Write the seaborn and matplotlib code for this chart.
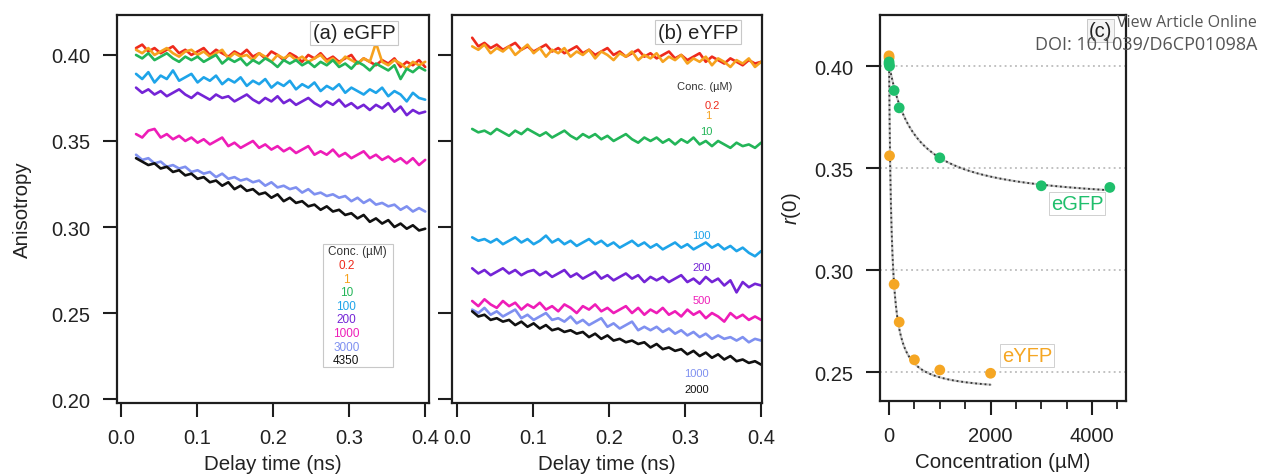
import numpy as np
import pandas as pd
import matplotlib
matplotlib.use("Agg")
import matplotlib.pyplot as plt
from matplotlib.patches import Rectangle
import seaborn as sns

sns.set_theme(style="ticks")
plt.rcParams["font.family"] = ["Liberation Sans", "DejaVu Sans"]
plt.rcParams["mathtext.fontset"] = "custom"
plt.rcParams["mathtext.it"] = "Liberation Sans:italic"
plt.rcParams["mathtext.rm"] = "Liberation Sans"

# ---------------------------------------------------------------- data
# sampling grid of the anisotropy decays (ns)
delay_time = np.linspace(0.02, 0.40, 48)

egfp_labels = ["0.2", "1", "10", "100", "200", "1000", "3000", "4350"]
eyfp_labels = ["0.2", "1", "10", "100", "200", "500", "1000", "2000"]

# eGFP anisotropy decays, one per concentration
egfp_0p2 = [0.404, 0.406, 0.402, 0.404, 0.401, 0.403, 0.405, 0.401, 0.403, 0.400,
            0.402, 0.404, 0.400, 0.403, 0.401, 0.399, 0.402, 0.400, 0.403, 0.399,
            0.401, 0.398, 0.402, 0.400, 0.397, 0.401, 0.399, 0.396, 0.400, 0.398,
            0.401, 0.397, 0.399, 0.396, 0.398, 0.400, 0.395, 0.398, 0.396, 0.394,
            0.397, 0.395, 0.398, 0.393, 0.396, 0.394, 0.397, 0.393]
egfp_1 = [0.403, 0.401, 0.404, 0.400, 0.402, 0.404, 0.401, 0.399, 0.402, 0.403,
          0.400, 0.402, 0.399, 0.401, 0.403, 0.398, 0.401, 0.399, 0.400, 0.397,
          0.401, 0.399, 0.396, 0.400, 0.398, 0.400, 0.397, 0.399, 0.396, 0.398,
          0.400, 0.396, 0.398, 0.395, 0.399, 0.397, 0.395, 0.398, 0.396, 0.407,
          0.396, 0.394, 0.397, 0.395, 0.392, 0.396, 0.394, 0.396]
egfp_10 = [0.400, 0.398, 0.401, 0.397, 0.399, 0.401, 0.398, 0.396, 0.399, 0.397,
           0.399, 0.396, 0.398, 0.400, 0.395, 0.398, 0.396, 0.398, 0.394, 0.397,
           0.395, 0.398, 0.396, 0.393, 0.397, 0.395, 0.397, 0.394, 0.396, 0.393,
           0.396, 0.394, 0.397, 0.393, 0.395, 0.392, 0.396, 0.394, 0.391, 0.395,
           0.393, 0.391, 0.394, 0.386, 0.392, 0.390, 0.393, 0.391]
egfp_100 = [0.389, 0.386, 0.390, 0.384, 0.388, 0.386, 0.391, 0.385, 0.387, 0.389,
            0.384, 0.387, 0.385, 0.388, 0.383, 0.386, 0.384, 0.387, 0.382, 0.385,
            0.383, 0.386, 0.381, 0.384, 0.382, 0.385, 0.380, 0.383, 0.381, 0.384,
            0.379, 0.382, 0.380, 0.383, 0.378, 0.381, 0.379, 0.377, 0.380, 0.378,
            0.381, 0.376, 0.379, 0.377, 0.373, 0.378, 0.375, 0.374]
egfp_200 = [0.381, 0.378, 0.380, 0.377, 0.379, 0.376, 0.378, 0.380, 0.377, 0.375,
            0.378, 0.376, 0.374, 0.377, 0.375, 0.376, 0.373, 0.375, 0.377, 0.374,
            0.372, 0.375, 0.373, 0.376, 0.372, 0.374, 0.371, 0.373, 0.375, 0.372,
            0.370, 0.373, 0.371, 0.374, 0.370, 0.372, 0.369, 0.371, 0.368, 0.371,
            0.369, 0.372, 0.367, 0.370, 0.365, 0.368, 0.366, 0.367]
egfp_1000 = [0.354, 0.352, 0.356, 0.357, 0.352, 0.354, 0.351, 0.353, 0.350, 0.352,
             0.349, 0.351, 0.348, 0.350, 0.352, 0.347, 0.349, 0.346, 0.348, 0.350,
             0.346, 0.348, 0.345, 0.347, 0.344, 0.346, 0.343, 0.345, 0.347, 0.342,
             0.344, 0.342, 0.345, 0.341, 0.343, 0.340, 0.342, 0.344, 0.340, 0.342,
             0.339, 0.341, 0.338, 0.340, 0.337, 0.340, 0.336, 0.339]
egfp_3000 = [0.342, 0.339, 0.340, 0.337, 0.338, 0.335, 0.336, 0.334, 0.335, 0.332,
             0.333, 0.331, 0.332, 0.329, 0.331, 0.328, 0.329, 0.327, 0.328, 0.326,
             0.327, 0.324, 0.326, 0.323, 0.324, 0.322, 0.323, 0.320, 0.322, 0.319,
             0.320, 0.318, 0.319, 0.317, 0.318, 0.315, 0.317, 0.314, 0.316, 0.313,
             0.314, 0.312, 0.313, 0.310, 0.312, 0.309, 0.311, 0.309]
egfp_4350 = [0.340, 0.338, 0.336, 0.337, 0.334, 0.335, 0.332, 0.333, 0.330, 0.331,
             0.328, 0.329, 0.326, 0.327, 0.324, 0.326, 0.322, 0.324, 0.321, 0.322,
             0.319, 0.320, 0.317, 0.319, 0.315, 0.317, 0.314, 0.315, 0.312, 0.313,
             0.310, 0.312, 0.309, 0.310, 0.307, 0.308, 0.305, 0.307, 0.303, 0.305,
             0.302, 0.304, 0.300, 0.302, 0.299, 0.301, 0.298, 0.299]

# eYFP anisotropy decays, one per concentration
eyfp_0p2 = [0.410, 0.405, 0.407, 0.404, 0.406, 0.403, 0.405, 0.407, 0.403, 0.405,
            0.402, 0.404, 0.406, 0.402, 0.404, 0.401, 0.403, 0.405, 0.401, 0.403,
            0.400, 0.402, 0.404, 0.400, 0.402, 0.399, 0.401, 0.403, 0.399, 0.401,
            0.398, 0.400, 0.402, 0.398, 0.400, 0.397, 0.399, 0.401, 0.396, 0.399,
            0.397, 0.395, 0.398, 0.396, 0.394, 0.397, 0.395, 0.396]
eyfp_1 = [0.405, 0.403, 0.406, 0.401, 0.404, 0.402, 0.405, 0.400, 0.403, 0.406,
          0.401, 0.404, 0.399, 0.403, 0.401, 0.404, 0.399, 0.402, 0.400, 0.403,
          0.398, 0.402, 0.400, 0.397, 0.401, 0.399, 0.402, 0.397, 0.400, 0.398,
          0.401, 0.396, 0.399, 0.397, 0.400, 0.395, 0.398, 0.396, 0.399, 0.394,
          0.398, 0.396, 0.393, 0.397, 0.395, 0.398, 0.393, 0.396]
eyfp_10 = [0.357, 0.355, 0.356, 0.354, 0.357, 0.355, 0.353, 0.356, 0.354, 0.357,
           0.355, 0.353, 0.355, 0.352, 0.354, 0.356, 0.353, 0.351, 0.354, 0.352,
           0.354, 0.351, 0.353, 0.350, 0.352, 0.354, 0.351, 0.349, 0.352, 0.350,
           0.352, 0.349, 0.351, 0.348, 0.351, 0.349, 0.352, 0.348, 0.350, 0.347,
           0.350, 0.348, 0.346, 0.349, 0.347, 0.348, 0.346, 0.349]
eyfp_100 = [0.294, 0.292, 0.293, 0.291, 0.293, 0.290, 0.292, 0.294, 0.291, 0.293,
            0.290, 0.292, 0.295, 0.291, 0.293, 0.290, 0.292, 0.289, 0.291, 0.293,
            0.290, 0.292, 0.289, 0.291, 0.288, 0.290, 0.292, 0.289, 0.291, 0.288,
            0.290, 0.287, 0.289, 0.291, 0.288, 0.290, 0.287, 0.289, 0.291, 0.288,
            0.290, 0.287, 0.289, 0.286, 0.288, 0.285, 0.283, 0.286]
eyfp_200 = [0.276, 0.273, 0.275, 0.272, 0.274, 0.276, 0.273, 0.275, 0.272, 0.274,
            0.275, 0.272, 0.274, 0.271, 0.273, 0.275, 0.271, 0.273, 0.270, 0.272,
            0.274, 0.270, 0.272, 0.269, 0.271, 0.273, 0.270, 0.272, 0.268, 0.271,
            0.269, 0.271, 0.268, 0.270, 0.272, 0.268, 0.270, 0.267, 0.271, 0.268,
            0.270, 0.266, 0.269, 0.262, 0.268, 0.265, 0.267, 0.266]
eyfp_500 = [0.257, 0.254, 0.258, 0.255, 0.253, 0.257, 0.254, 0.256, 0.252, 0.255,
            0.253, 0.256, 0.252, 0.254, 0.251, 0.255, 0.253, 0.250, 0.254, 0.252,
            0.255, 0.251, 0.253, 0.250, 0.252, 0.254, 0.250, 0.253, 0.249, 0.252,
            0.250, 0.253, 0.249, 0.251, 0.248, 0.252, 0.249, 0.251, 0.247, 0.250,
            0.248, 0.245, 0.250, 0.247, 0.249, 0.246, 0.248, 0.246]
eyfp_1000 = [0.252, 0.250, 0.253, 0.249, 0.251, 0.248, 0.250, 0.252, 0.247, 0.249,
             0.246, 0.248, 0.250, 0.246, 0.247, 0.245, 0.248, 0.244, 0.246, 0.243,
             0.245, 0.247, 0.242, 0.244, 0.241, 0.243, 0.245, 0.240, 0.242, 0.240,
             0.242, 0.239, 0.241, 0.238, 0.240, 0.237, 0.239, 0.236, 0.238, 0.235,
             0.237, 0.235, 0.236, 0.234, 0.236, 0.233, 0.235, 0.234]
eyfp_2000 = [0.251, 0.248, 0.249, 0.246, 0.247, 0.245, 0.246, 0.243, 0.245, 0.242,
             0.244, 0.241, 0.243, 0.240, 0.241, 0.239, 0.240, 0.238, 0.239, 0.236,
             0.238, 0.235, 0.237, 0.234, 0.235, 0.233, 0.234, 0.232, 0.233, 0.230,
             0.232, 0.229, 0.230, 0.228, 0.229, 0.226, 0.228, 0.225, 0.227, 0.224,
             0.226, 0.223, 0.225, 0.222, 0.223, 0.221, 0.222, 0.220]

# initial anisotropy r(0) versus concentration (uM)
egfp_conc = [0.2, 1, 10, 100, 200, 1000, 3000, 4350]
egfp_r0 = [0.401, 0.402, 0.400, 0.388, 0.3795, 0.355, 0.3413, 0.3405]
eyfp_conc = [0.2, 1, 10, 100, 200, 500, 1000, 2000]
eyfp_r0 = [0.405, 0.404, 0.356, 0.293, 0.2745, 0.256, 0.251, 0.2494]

# hyperbolic fit parameters: r(c) = r_inf + amp / (1 + c / k_half)
egfp_fit = {"r_inf": 0.332, "amp": 0.069, "k_half": 500.0}
eyfp_fit = {"r_inf": 0.240, "amp": 0.165, "k_half": 47.0}

# ---------------------------------------------------------------- style
trace_colors = ["#ee2a1c", "#f6a21e", "#23b558", "#1ea4e9",
                "#7424d6", "#ee1db8", "#7f90f0", "#111111"]
egfp_color = "#1fbf6c"
eyfp_color = "#f5a623"
frame_color = "#1e1e1e"
text_color = "#222222"
tick_fs = 14.5
label_fs = 14.8

egfp_traces = [egfp_0p2, egfp_1, egfp_10, egfp_100,
               egfp_200, egfp_1000, egfp_3000, egfp_4350]
eyfp_traces = [eyfp_0p2, eyfp_1, eyfp_10, eyfp_100,
               eyfp_200, eyfp_500, eyfp_1000, eyfp_2000]

fig = plt.figure(figsize=(12.61, 4.77), dpi=100)
ax_a = fig.add_axes([0.0928, 0.153, 0.2474, 0.8134])
ax_b = fig.add_axes([0.3584, 0.153, 0.2458, 0.8134])
ax_c = fig.add_axes([0.6979, 0.1572, 0.1951, 0.8092])


def style_frame(ax):
    for side in ["left", "right", "top", "bottom"]:
        ax.spines[side].set_visible(True)
        ax.spines[side].set_linewidth(1.6)
        ax.spines[side].set_color(frame_color)
    ax.tick_params(axis="both", which="major", direction="out", length=10,
                   width=1.5, color=frame_color, labelsize=tick_fs,
                   labelcolor=text_color)
    ax.tick_params(axis="y", which="major", pad=9)
    ax.tick_params(axis="x", which="major", pad=8)
    ax.tick_params(axis="both", which="minor", direction="out", length=5,
                   width=1.3, color=frame_color)
    ax.set_facecolor("white")


def draw_traces(ax, traces, labels):
    rows = []
    for lab, vals in zip(labels, traces):
        rows.append(pd.DataFrame({"t": delay_time, "r": vals, "conc": lab}))
    df = pd.concat(rows, ignore_index=True)
    sns.lineplot(data=df, x="t", y="r", hue="conc", hue_order=labels,
                 palette=trace_colors, linewidth=1.9, legend=False, ax=ax,
                 sort=False)


# ---------------------------------------------------------------- (a) eGFP
draw_traces(ax_a, egfp_traces, egfp_labels)
style_frame(ax_a)
ax_a.set_xlim(-0.005, 0.405)
ax_a.set_ylim(0.1977, 0.4232)
ax_a.set_xticks([0.0, 0.1, 0.2, 0.3, 0.4])
ax_a.set_xticklabels(["0.0", "0.1", "0.2", "0.3", "0.4"])
ax_a.set_yticks([0.20, 0.25, 0.30, 0.35, 0.40])
ax_a.set_yticklabels(["0.20", "0.25", "0.30", "0.35", "0.40"])
ax_a.set_xlabel("Delay time (ns)", fontsize=label_fs, color=text_color, labelpad=5)
ax_a.set_ylabel("Anisotropy", fontsize=label_fs, color=text_color, labelpad=14)
ax_a.text(0.76, 0.954, "(a) eGFP", transform=ax_a.transAxes, ha="center",
          va="center", fontsize=tick_fs, color=text_color,
          bbox=dict(boxstyle="square,pad=0.12", fc="white", ec="#c8c8c8", lw=0.8))

# concentration key
ax_a.add_patch(Rectangle((0.66, 0.093), 0.225, 0.317, transform=ax_a.transAxes,
                         fc="white", ec="#c8c8c8", lw=0.8, zorder=3))
ax_a.text(0.772, 0.392, "Conc. (µM)", transform=ax_a.transAxes, ha="center",
          va="center", fontsize=8.5, color="#333333", zorder=4)
for i, (lab, col) in enumerate(zip(egfp_labels, trace_colors)):
    ax_a.text(0.735, 0.356 - i * 0.0351, lab, transform=ax_a.transAxes,
              ha="center", va="center", fontsize=8.5, color=col, zorder=4)

# ---------------------------------------------------------------- (b) eYFP
draw_traces(ax_b, eyfp_traces, eyfp_labels)
style_frame(ax_b)
ax_b.set_xlim(-0.0066, 0.401)
ax_b.set_ylim(0.1977, 0.4232)
ax_b.set_xticks([0.0, 0.1, 0.2, 0.3, 0.4])
ax_b.set_xticklabels(["0.0", "0.1", "0.2", "0.3", "0.4"])
ax_b.set_yticks([0.20, 0.25, 0.30, 0.35, 0.40])
ax_b.set_yticklabels([])
ax_b.set_xlabel("Delay time (ns)", fontsize=label_fs, color=text_color, labelpad=5)
ax_b.set_ylabel("")
ax_b.text(0.794, 0.956, "(b) eYFP", transform=ax_b.transAxes, ha="center",
          va="center", fontsize=tick_fs, color=text_color,
          bbox=dict(boxstyle="square,pad=0.12", fc="white", ec="#c8c8c8", lw=0.8))

ax_b.text(0.326, 0.382, "Conc. (µM)", ha="center", va="center",
          fontsize=8, color="#333333")
label_spots_b = [(0.336, 0.371), (0.331, 0.365), (0.328, 0.3559),
                 (0.322, 0.2956), (0.322, 0.2770), (0.322, 0.2573),
                 (0.315, 0.2150), (0.315, 0.2057)]
for (tx, ty), lab, col in zip(label_spots_b, eyfp_labels, trace_colors):
    ax_b.text(tx, ty, lab, ha="center", va="center", fontsize=8, color=col)

# ---------------------------------------------------------------- (c) r(0)
style_frame(ax_c)
ax_c.set_xlim(-177, 4670)
ax_c.set_ylim(0.2358, 0.425)
ax_c.set_yticks([0.25, 0.30, 0.35, 0.40])
ax_c.set_yticklabels(["0.25", "0.30", "0.35", "0.40"])
ax_c.set_xticks([0, 2000, 4000])
ax_c.set_xticklabels(["0", "2000", "4000"])
ax_c.set_xticks(np.arange(500, 4600, 500), minor=True)
ax_c.tick_params(axis="x", which="minor", length=6)
ax_c.yaxis.grid(True, linestyle=(0, (1.2, 2.2)), color="#b0b0b0", linewidth=1.1)
ax_c.set_axisbelow(True)

for fit, top in [(egfp_fit, max(egfp_conc)), (eyfp_fit, max(eyfp_conc))]:
    c = np.geomspace(0.2, top, 400)
    r = fit["r_inf"] + fit["amp"] / (1 + c / fit["k_half"])
    ax_c.plot(c, r, color="#c4c4c4", linewidth=1.6, zorder=2)
    ax_c.plot(c, r, color="#333333", linewidth=1.3,
              linestyle=(0, (1.0, 1.6)), zorder=2.1)

sns.scatterplot(x=eyfp_conc, y=eyfp_r0, color=eyfp_color, s=60,
                edgecolor="none", ax=ax_c, zorder=3)
sns.scatterplot(x=egfp_conc, y=egfp_r0, color=egfp_color, s=60,
                edgecolor="none", ax=ax_c, zorder=4)

ax_c.set_xlabel("Concentration (µM)", fontsize=label_fs, color=text_color, labelpad=5)
ax_c.set_ylabel("$r$(0)", fontsize=label_fs, color=text_color, labelpad=8)
ax_c.text(3704, 0.3324, "eGFP", ha="center", va="center", fontsize=tick_fs,
          color=egfp_color,
          bbox=dict(boxstyle="square,pad=0.1", fc="white", ec="#d0d0d0", lw=0.7))
ax_c.text(2719, 0.2583, "eYFP", ha="center", va="center", fontsize=tick_fs,
          color=eyfp_color,
          bbox=dict(boxstyle="square,pad=0.1", fc="white", ec="#d0d0d0", lw=0.7))
ax_c.text(0.896, 0.959, "(c)", transform=ax_c.transAxes, ha="center",
          va="center", fontsize=tick_fs, color=text_color,
          bbox=dict(boxstyle="square,pad=0.1", fc="#f4f4f4", ec="#c8c8c8", lw=0.7))

# publisher link in the top right corner
fig.text(0.9968, 0.952, "View Article Online", ha="right", va="center",
         fontsize=11.5, color="#555555", family=["Open Sans", "DejaVu Sans"],
         zorder=10)
fig.text(0.9968, 0.906, "DOI: 10.1039/D6CP01098A", ha="right", va="center",
         fontsize=13, color="#555555", family=["Open Sans", "DejaVu Sans"],
         zorder=10)

fig.savefig("out.png", dpi=100, facecolor="white")
